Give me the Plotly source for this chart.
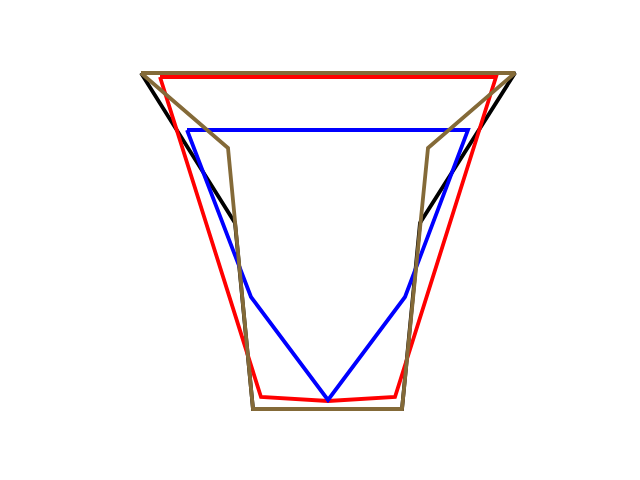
import plotly.graph_objects as go

black_x = [141, 515, 420, 402, 253, 235, 141]
black_y = [407, 407, 257, 71, 71, 257, 407]

red_x = [160, 496, 395, 328, 261, 160]
red_y = [403, 403, 83, 79, 83, 403]

blue_x = [187, 468, 405, 328, 251, 187]
blue_y = [350, 350, 183, 80, 183, 350]

brown_x = [141, 515, 428, 402, 253, 228, 141]
brown_y = [407, 407, 332, 71, 71, 332, 407]

series = [
    ("black", black_x, black_y, "#000000"),
    ("red", red_x, red_y, "#ff0000"),
    ("blue", blue_x, blue_y, "#0000ff"),
    ("brown", brown_x, brown_y, "#846a38"),
]

fig = go.Figure()
for name, xs, ys, col in series:
    fig.add_trace(go.Scatter(x=xs, y=ys, mode="lines", name=name,
                             line=dict(color=col, width=3.8),
                             hoverinfo="skip"))

fig.update_layout(
    width=640, height=480,
    margin=dict(l=0, r=0, t=0, b=0),
    paper_bgcolor="white", plot_bgcolor="white",
    showlegend=False,
    xaxis=dict(range=[8, 648], visible=False, fixedrange=True),
    yaxis=dict(range=[-8, 472], visible=False, fixedrange=True),
)
fig.write_html("out.html")
